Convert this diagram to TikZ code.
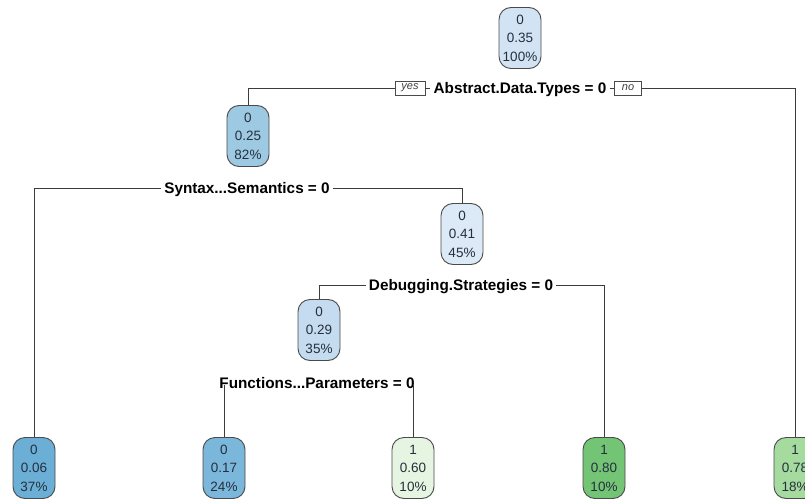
\documentclass[tikz,border=0pt]{standalone}
\usepackage{fontspec}
\setmainfont{Liberation Sans}
\definecolor{edgecol}{HTML}{3C3C3C}
\definecolor{boxline}{HTML}{4A4A4A}
\definecolor{nodetext}{HTML}{25303C}
\definecolor{bA}{HTML}{D2E3F3}
\definecolor{bB}{HTML}{9DC9E2}
\definecolor{bC}{HTML}{DCE9F6}
\definecolor{bD}{HTML}{C5DBEF}
\definecolor{bE}{HTML}{6BAED6}
\definecolor{bF}{HTML}{7BB6DB}
\definecolor{gA}{HTML}{E6F5E1}
\definecolor{gB}{HTML}{74C476}
\definecolor{gC}{HTML}{A6DB9F}
\begin{document}
\begin{tikzpicture}[x=1pt,y=-1pt,
  tnode/.style={draw=boxline, line width=0.9pt, rectangle, rounded corners=12pt,
    minimum width=42pt, minimum height=61pt, inner sep=0pt, align=center,
    text=nodetext, font=\fontsize{13.5}{18.5}\selectfont},
  splitlab/.style={inner xsep=3pt, inner ysep=0pt, text height=11pt, text depth=0pt,
    font=\fontsize{15.3}{16}\selectfont\bfseries, text=black},
  yn/.style={draw=boxline, line width=0.7pt, fill=white, inner xsep=0pt, inner ysep=0pt,
    minimum height=14pt, font=\fontsize{11}{12}\selectfont\itshape, text=black!75},
  edge/.style={draw=edgecol, line width=0.9pt}]
\useasboundingbox (0,0) rectangle (805,500);
\clip (0,0) rectangle (805,500);
\fill[white] (0,0) rectangle (805,500);

% tree nodes
\node[tnode, fill=bA] (root) at (520,38)    {0\\0.35\\100\%};
\node[tnode, fill=bB] (n82)  at (248,136)   {0\\0.25\\82\%};
\node[tnode, fill=bC] (n41)  at (462,234)   {0\\0.41\\45\%};
\node[tnode, fill=bD] (n35)  at (319,330)   {0\\0.29\\35\%};
\node[tnode, fill=bE] (lfa)  at (34,468)    {0\\0.06\\37\%};
\node[tnode, fill=bF] (lfb)  at (224,468)   {0\\0.17\\24\%};
\node[tnode, fill=gA] (lfc)  at (413,468)   {1\\0.60\\10\%};
\node[tnode, fill=gB] (lfd)  at (604,468)   {1\\0.80\\10\%};
\node[tnode, fill=gC] (lfe)  at (795,468)   {1\\0.78\\18\%};

% split labels
\node[splitlab] (sa) at (520,88)  {Abstract.Data.Types = 0};
\node[yn, minimum width=30pt] (yes) at (410,88) {yes};
\node[yn, minimum width=27pt] (no)  at (628,88) {no};
\node[splitlab] (sb) at (247,188) {Syntax...Semantics = 0};
\node[splitlab] (sc) at (461,285) {Debugging.Strategies = 0};
\node[splitlab] (sd) at (317,383) {Functions...Parameters = 0};

% connectors
\draw[edge] (yes.west) -| (n82.north);
\draw[edge] (yes.east) -- (sa.west);
\draw[edge] (sa.east) -- (no.west);
\draw[edge] (no.east) -| (lfe.north);
\draw[edge] (sb.west) -| (lfa.north);
\draw[edge] (sb.east) -| (n41.north);
\draw[edge] (sc.west) -| (n35.north);
\draw[edge] (sc.east) -| (lfd.north);
\draw[edge] ([yshift=4pt]lfb.north |- sd.south) -- (lfb.north);
\draw[edge] ([yshift=4pt]lfc.north |- sd.south) -- (lfc.north);
\end{tikzpicture}
\end{document}
